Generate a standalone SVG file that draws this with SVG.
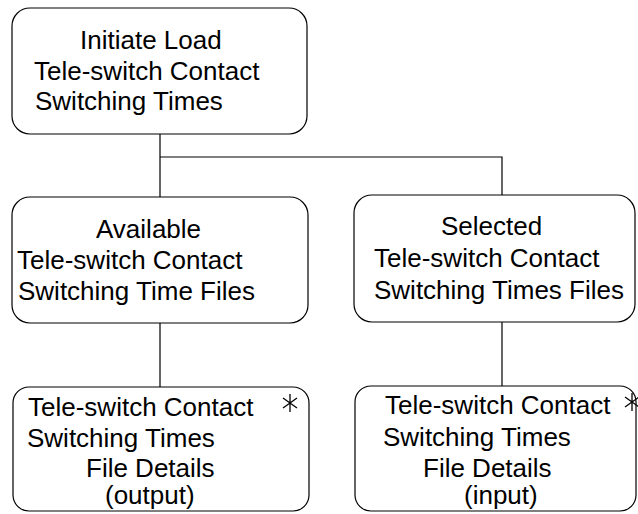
<svg xmlns="http://www.w3.org/2000/svg" width="638" height="514" viewBox="0 0 638 514">
<style>
.box{fill:#fff;stroke:#000;stroke-width:1.2}
.t{font-family:"Liberation Sans",Arial,sans-serif;font-size:26px;fill:#000}
.c{fill:none;stroke:#000;stroke-width:1.2}
.ast{fill:none;stroke:#000;stroke-width:1.3}
</style>
<rect width="638" height="514" fill="#fff"/>
<g id="connectors">
<path class="c" d="M160 134V197M160 157H502V195M160 323V387M502 322V386"/>
</g>
<g id="n1">
<rect class="box" x="12" y="8" width="295" height="126" rx="18"/>
<text class="t" x="80" y="49">Initiate Load</text>
<text class="t" x="34" y="80">Tele-switch Contact</text>
<text class="t" x="35" y="110">Switching Times</text>
</g>
<g id="n2">
<rect class="box" x="12" y="197" width="296" height="126" rx="18"/>
<text class="t" x="96" y="238">Available</text>
<text class="t" x="17" y="269">Tele-switch Contact</text>
<text class="t" x="18" y="300">Switching Time Files</text>
</g>
<g id="n3">
<rect class="box" x="354" y="195" width="281" height="127" rx="18"/>
<text class="t" x="441" y="235">Selected</text>
<text class="t" x="374" y="267">Tele-switch Contact</text>
<text class="t" x="374" y="299">Switching Times Files</text>
</g>
<g id="n4">
<rect class="box" x="13" y="387" width="296" height="124" rx="16"/>
<text class="t" x="28" y="416">Tele-switch Contact</text>
<text class="t" x="27" y="447">Switching Times</text>
<text class="t" x="86" y="477">File Details</text>
<text class="t" x="105" y="504">(output)</text>
<path class="ast" d="M290 394V412M283 398L297 408M283 408L297 398"/>
</g>
<g id="n5">
<rect class="box" x="355" y="386" width="281" height="125" rx="16"/>
<text class="t" x="385" y="414">Tele-switch Contact</text>
<text class="t" x="383" y="446">Switching Times</text>
<text class="t" x="423" y="477">File Details</text>
<text class="t" x="464" y="504">(input)</text>
<path class="ast" d="M632 393V411M625 397L639 407M625 407L639 397"/>
</g>
</svg>
